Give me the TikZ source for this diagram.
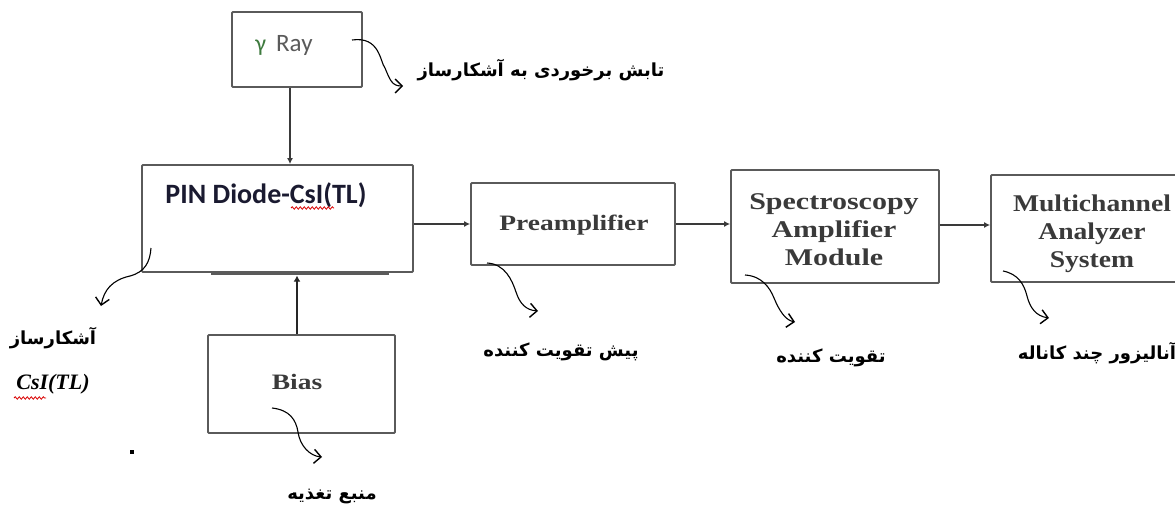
\documentclass[tikz,border=0pt]{standalone}
\usepackage{fontspec}
\usetikzlibrary{arrows.meta,calc,decorations.pathmorphing}
\TeXXeTstate=1
\newfontfamily\fa[Script=Arabic]{DejaVu Sans}
\newfontfamily\calib{Carlito}
\newfontfamily\tnr[FakeStretch=1.25]{Liberation Serif}
\newfontfamily\tnrb[FakeStretch=1.15]{Liberation Serif}
\newfontfamily\tnrplain{Liberation Serif}
\definecolor{boxgray}{HTML}{5A5A5A}
\definecolor{txtgray}{HTML}{3A3A3A}
\definecolor{pinblue}{HTML}{1A1A30}
\definecolor{gamgreen}{HTML}{3E7A3E}
\tikzset{
  blk/.style={draw=boxgray, line width=1.8pt, rounded corners=1pt, minimum width=#1, inner sep=0pt},
  conn/.style={draw=txtgray, line width=1.8pt, -{Latex[length=6pt,width=6pt]}},
  thickconn/.style={draw=black!85, line width=2.6pt, -{Latex[length=6pt,width=7pt]}},
  curvy/.style={draw=black, line width=1.1pt, -{Straight Barb[length=7pt,width=14pt,line width=1.4pt]}},
  engtxt/.style={font=\tnr\bfseries\fontsize{24}{28}\selectfont, text=txtgray, align=center, inner sep=0pt},
  fatxt/.style={font=\fa\bfseries\fontsize{18}{22}\selectfont, text=black, inner sep=0pt},
  wavy/.style={draw=red!85!black, line width=0.8pt, decorate, decoration={snake, amplitude=1.2pt, segment length=4pt}}
}
\begin{document}
\begin{tikzpicture}[x=1pt,y=-1pt]
\useasboundingbox (0,0) rectangle (1175,508);

% boxes
\node[blk=130pt, minimum height=75pt] (ray) at (297,49.5) {};
\node[blk=271pt, minimum height=107pt] (pin) at (277.5,218.5) {};
\node[blk=187pt, minimum height=98pt] (bias) at (301.5,384) {};
\node[blk=204pt, minimum height=82pt] (pre) at (573,224) {};
\node[blk=208pt, minimum height=113pt] (spec) at (835,226.5) {};
\node[blk=186pt, minimum height=107pt] (mca) at (1084,228.5) {};

% box texts
\node[inner sep=0pt, font=\calib\fontsize{25}{28}\selectfont] (raytxt) at (284,45) {\textcolor{gamgreen}{\fontsize{24}{26}\selectfont γ}\hspace{10pt}\textcolor{boxgray}{Ray}};
\node[inner sep=0pt, font=\calib\bfseries\fontsize{28}{30}\selectfont, text=pinblue] (pintxt) at (266,195) {PIN Diode-CsI(TL)};
\draw[wavy] (291,208) -- (334,208);
\node[engtxt, font=\tnr\bfseries\fontsize{22}{26}\selectfont] (pretxt) at (574,225) {Preamplifier};
\node[engtxt] (spectxt) at (834,230) {Spectroscopy\\Amplifier\\Module};
\node[engtxt, font=\tnrb\bfseries\fontsize{24}{28}\selectfont] (mcatxt) at (1092,234) {Multichannel\\Analyzer\\System};
\node[engtxt, font=\tnr\bfseries\fontsize{22}{26}\selectfont] (biastxt) at (297,382) {Bias};

% bar under PIN box
\draw[draw=boxgray, line width=2.4pt] ([xshift=70pt,yshift=-1.2pt]pin.south west) coordinate (barl) -- ([xshift=248pt,yshift=-1.2pt]pin.south west) coordinate (barr);

% connectors
\draw[conn] ([xshift=-7pt]ray.south) -- ([xshift=-7pt]ray.south |- pin.north);
\draw[thickconn] ([xshift=-4.5pt]bias.north) -- ([xshift=-4.5pt,yshift=-1.5pt]bias.north |- barl);
\draw[conn] (pre.west -| pin.east) -- (pre.west);
\draw[conn] (pre.east) -- (pre.east -| spec.west);
\draw[conn] ([yshift=1.5pt]spec.east) -- ([yshift=1.5pt]spec.east -| mca.west);

% Persian labels
\node[fatxt] (raylab) at (541,70) {\fa\beginR تابش برخوردی به آشکارساز\endR};
\node[fatxt] (pinlab) at (53,338) {\fa\beginR آشکارساز\endR};
\node[inner sep=0pt, font=\tnrplain\bfseries\itshape\fontsize{22}{26}\selectfont] (pinlab2) at (53,384) {CsI(TL)};
\draw[wavy] (14,398) -- (46,398);
\node[fatxt] (prelab) at (561,352) {\fa\beginR پیش تقویت کننده\endR};
\node[fatxt] (speclab) at (831,358) {\fa\beginR تقویت کننده\endR};
\node[fatxt] (mcalab) at (1097,353) {\fa\beginR آنالیزور چند کاناله\endR};
\node[fatxt] (biaslab) at (332,496) {\fa\beginR منبع تغذیه\endR};

% curvy pointer coordinates
\coordinate (c1s) at (352,40);  \coordinate (c1e) at (403,86);
\coordinate (c2s) at (151,248); \coordinate (c2e) at (101,306);
\coordinate (c3s) at (487,263); \coordinate (c3e) at (538,311);
\coordinate (c4s) at (745,275); \coordinate (c4e) at (795,322);
\coordinate (c5s) at (1003,271);\coordinate (c5e) at (1049,318);
\coordinate (c6s) at (272,408); \coordinate (c6e) at (322,457);

\draw[curvy] (c1s) .. controls (380,36) and (380,62) .. (385,68) .. controls (390,80) and (392,86) .. (c1e);
\draw[curvy] (c2s) .. controls (150,262) and (145,272) .. (130,276) .. controls (112,280) and (104,290) .. (c2e);
\draw[curvy] (c3s) .. controls (505,264) and (512,280) .. (516,292) .. controls (520,304) and (526,310) .. (c3e);
\draw[curvy] (c4s) .. controls (762,276) and (770,288) .. (774,298) .. controls (779,310) and (785,320) .. (c4e);
\draw[curvy] (c5s) .. controls (1018,274) and (1024,284) .. (1027,296) .. controls (1030,308) and (1036,316) .. (c5e);
\draw[curvy] (c6s) .. controls (290,410) and (296,420) .. (298,432) .. controls (300,446) and (310,456) .. (c6e);

% small dot
\node[fill=black, minimum size=4pt, inner sep=0pt] (dot) at (132,452) {};
\end{tikzpicture}
\end{document}
